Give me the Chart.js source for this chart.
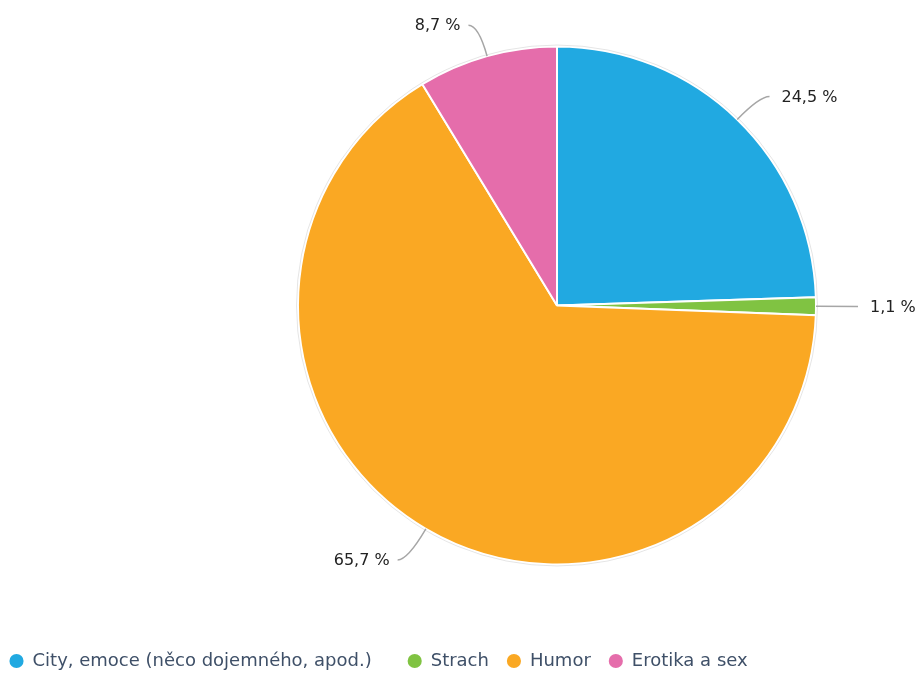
<!DOCTYPE html>
<html><head><meta charset="utf-8">
<script src="https://cdn.jsdelivr.net/npm/chart.js@4/dist/chart.umd.min.js"></script>
<style>html,body{margin:0;padding:0;background:#fff;overflow:hidden}#wrap{width:920px;height:673px;position:relative}</style>
</head><body><div id="wrap"><canvas id="c" width="920" height="673"></canvas></div>
<script>
const categories = ['City, emoce (něco dojemného, apod.)', 'Strach', 'Humor', 'Erotika a sex'];
const shares = [24.5, 1.1, 65.7, 8.7];
const sliceColors = ['#21a9e1', '#80c342', '#faa823', '#e56dab'];

const fmt = v => v.toFixed(1).replace('.', ',') + ' %';

// spacer boxes to position the pie inside the canvas (legend stays full width)
const spacerPlugin = {
  id: 'spacers',
  beforeInit(chart) {
    const mk = (pos, size) => ({
      position: pos, weight: 0, fullSize: false, options: {},
      left: 0, top: 0, right: 0, bottom: 0, width: 0, height: 0,
      isHorizontal() { return pos === 'top' || pos === 'bottom'; },
      update(w, h) {
        if (this.isHorizontal()) { this.width = w; this.height = size; }
        else { this.width = size; this.height = h; }
      },
      draw() {}
    });
    Chart.layouts.addBox(chart, mk('left', 297));
    Chart.layouts.addBox(chart, mk('right', 103));
    Chart.layouts.addBox(chart, mk('bottom', 16));
  },
  afterLayout(chart) {
    const lg = chart.legend;
    if (!lg) return;
    const h = lg.bottom - lg.top, w = lg.right - lg.left;
    lg.top = 634; lg.bottom = 634 + h;
    lg.left = -8.5; lg.right = -8.5 + w;
  }
};

const labelPlugin = {
  id: 'leaderLabels',
  afterDatasetsDraw(chart) {
    const ctx = chart.ctx;
    const meta = chart.getDatasetMeta(0);
    ctx.save();
    if (meta.data.length) {
      const a = meta.data[0];
      ctx.beginPath();
      ctx.arc(a.x, a.y, a.outerRadius + 1.5, 0, Math.PI * 2);
      ctx.strokeStyle = 'rgba(0,0,0,0.10)';
      ctx.lineWidth = 1;
      ctx.stroke();
    }
    meta.data.forEach((arc, i) => {
      const { x, y, startAngle, endAngle, outerRadius } = arc;
      const mid = (startAngle + endAngle) / 2;
      const c = Math.cos(mid), s = Math.sin(mid);
      const ext = s > 0.5 ? 36 : 32;
      const p0 = [x + c * outerRadius, y + s * outerRadius];
      const p1 = [x + c * (outerRadius + ext), y + s * (outerRadius + ext)];
      const dir = c >= 0 ? 1 : -1;
      const p2 = [p1[0] + dir * 10, p1[1]];
      ctx.beginPath();
      ctx.moveTo(p0[0], p0[1]);
      ctx.quadraticCurveTo(p1[0], p1[1], p2[0], p2[1]);
      ctx.strokeStyle = '#a6a6a6';
      ctx.lineWidth = 1.5;
      ctx.stroke();
      ctx.fillStyle = '#222222';
      ctx.font = '16px "DejaVu Sans"';
      ctx.textAlign = dir > 0 ? 'left' : 'right';
      ctx.textBaseline = 'middle';
      ctx.fillText(fmt(shares[i]), p2[0] + dir * (dir > 0 ? 12 : 8), p2[1] + 1);
    });
    ctx.restore();
  }
};

new Chart(document.getElementById('c'), {
  type: 'pie',
  data: {
    labels: categories,
    datasets: [{
      data: shares,
      backgroundColor: sliceColors,
      borderColor: '#ffffff',
      borderWidth: 2,
      hoverOffset: 0
    }]
  },
  options: {
    responsive: false,
    animation: false,
    events: [],
    layout: { padding: 0 },
    plugins: {
      tooltip: { enabled: false },
      legend: {
        display: true,
        position: 'bottom',
        align: 'start',
        labels: {
          usePointStyle: true,
          pointStyle: 'circle',
          boxWidth: 14,
          boxHeight: 10,
          padding: 18,
          color: '#3f5068',
          font: { family: '"DejaVu Sans"', size: 18 },
          generateLabels(chart) {
            const items = Chart.overrides.pie.plugins.legend.labels.generateLabels(chart);
            items.forEach((it, i) => {
              it.lineWidth = 0;
              if (i === 0) it.text = it.text + '\u2003';
            });
            return items;
          }
        }
      }
    }
  },
  plugins: [spacerPlugin, labelPlugin]
});
</script>
</body></html>
